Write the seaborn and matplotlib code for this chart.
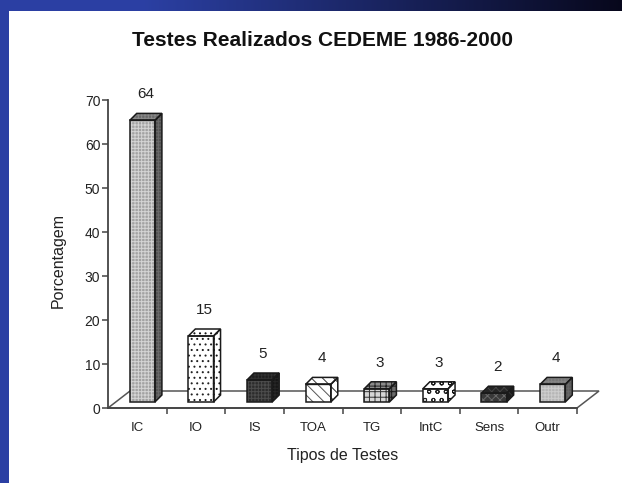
import numpy as np
import pandas as pd
import matplotlib
matplotlib.use("Agg")
import matplotlib.pyplot as plt
import matplotlib.transforms as mtransforms
from matplotlib.colors import to_rgb
from matplotlib.patches import Polygon, Rectangle
import seaborn as sns

categorias = ["IC", "IO", "IS", "TOA", "TG", "IntC", "Sens", "Outr"]
porcentagem = [64, 15, 5, 4, 3, 3, 2, 4]
y_ticks = [0, 10, 20, 30, 40, 50, 60, 70]

# fill / hatch for each bar (old 3D chart look)
cores = ["#a2a2a2", "#ffffff", "#2c2c2c", "#ffffff", "#d6d6d6", "#ffffff", "#383838", "#b6b6b6"]
hachuras = ["+++++", "...", "+++++", "\\\\\\", "+++", "oo", "xxxx", "+++++"]
cor_hachura = ["#d4d4d4", "#222222", "#4c4c4c", "#555555", "#333333", "#222222", "#686868", "#cdcdcd"]

sns.set_theme(style="white")
plt.rcParams["font.family"] = ["Liberation Sans", "DejaVu Sans"]
plt.rcParams["hatch.linewidth"] = 0.7
texto = "#222222"

W, H = 622, 483
fig = plt.figure(figsize=(W / 100, H / 100), dpi=100)

# slide background: blue frame + white panel
bg = fig.add_axes([0, 0, 1, 1])
bg.set_axis_off()
grad = np.clip(np.linspace(-0.3, 1, 256), 0, 1)
c0 = np.array([0.17, 0.25, 0.64])
c1 = np.array([0.03, 0.03, 0.11])
img = c0[None, None, :] * (1 - grad[None, :, None]) + c1[None, None, :] * grad[None, :, None]
bg.imshow(img, extent=[0, 1, 0, 1], aspect="auto", zorder=0)
bg.add_patch(Rectangle((9 / W, 0), 1, 1 - 11 / H, transform=bg.transAxes,
                       facecolor="white", edgecolor="none", zorder=1))
bg.set_xlim(0, 1)
bg.set_ylim(0, 1)

# plot area
ax = fig.add_axes([108 / W, 75 / H, 469 / W, 308 / H])
ax.patch.set_alpha(0)

df = pd.DataFrame({"Tipo": categorias, "Porcentagem": porcentagem})
sns.barplot(data=df, x="Tipo", y="Porcentagem", width=0.43, ax=ax, zorder=3)

ax.set_xlim(-0.5, len(categorias) - 0.5)
ax.set_ylim(0, 70)

# pixel -> data conversion
ux = (len(categorias)) / 469
uy = 70 / 308
desloc = ax.transData + mtransforms.ScaledTranslation(5 / 100, 6 / 100, fig.dpi_scale_trans)
dx, dy = 7 * ux, 7 * uy

# floor of the 3D chart
fdx, fdy = 22 * ux, 17 * uy
x0, x1 = -0.5, len(categorias) - 0.5
ax.add_patch(Polygon([(x0, 0), (x1, 0), (x1 + fdx, fdy), (x0 + fdx, fdy)], closed=True,
                     facecolor="white", edgecolor="#555555", lw=1.1, clip_on=False, zorder=1))


def escurecer(c, f):
    r = np.array(to_rgb(c))
    if r.min() > 0.95:
        return c
    return tuple(r * f)


for i, p in enumerate(ax.patches[:len(categorias)]):
    p.set_transform(desloc)
    p.set_facecolor(cores[i])
    p.set_edgecolor(cor_hachura[i])
    p.set_hatch(hachuras[i])
    p.set_linewidth(0)
    p.set_clip_on(False)
    bx, bw, bh = p.get_x(), p.get_width(), p.get_height()
    ax.add_patch(Rectangle((bx, 0), bw, bh, transform=desloc, fill=False,
                           edgecolor="#1a1a1a", lw=1.1, clip_on=False, zorder=4))
    lado = [(bx + bw, 0), (bx + bw + dx, dy), (bx + bw + dx, bh + dy), (bx + bw, bh)]
    topo = [(bx, bh), (bx + dx, bh + dy), (bx + bw + dx, bh + dy), (bx + bw, bh)]
    for verts, f in ((lado, 0.5), (topo, 0.65)):
        ax.add_patch(Polygon(verts, closed=True, transform=desloc, facecolor=escurecer(cores[i], f),
                             edgecolor=escurecer(cor_hachura[i], f), hatch=hachuras[i], lw=0,
                             clip_on=False, zorder=3))
        ax.add_patch(Polygon(verts, closed=True, transform=desloc, fill=False,
                             edgecolor="#1a1a1a", lw=1.1, clip_on=False, zorder=4))
    ax.annotate(str(porcentagem[i]), xy=(bx + bw / 2, bh), xytext=(6, 18),
                textcoords="offset points", ha="center", va="bottom",
                fontsize=11, color=texto)

# axes styling
sns.despine(ax=ax)
for s in ("left", "bottom"):
    ax.spines[s].set_color("#444444")
    ax.spines[s].set_linewidth(1.3)
ax.set_yticks(y_ticks)
ax.tick_params(axis="y", direction="out", length=4, width=1.1, color="#444444",
               labelsize=10, labelcolor=texto, pad=1.5, left=True)
ax.set_xticks(range(len(categorias)))
ax.set_xticklabels(categorias)
ax.set_xticks(np.arange(0.5, len(categorias)), minor=True)
ax.tick_params(axis="x", which="major", length=0, labelsize=9.5, labelcolor=texto, pad=10)
ax.tick_params(axis="x", which="minor", direction="out", length=4, width=1.1,
               color="#444444", bottom=True)
ax.grid(False)

ax.set_xlabel("Tipos de Testes", fontsize=11.5, color=texto, labelpad=10)
ax.set_ylabel("Porcentagem", fontsize=11.5, color=texto)
ax.yaxis.set_label_coords(-0.09, 0.48)

fig.text(322 / W, 1 - 40 / H, "Testes Realizados CEDEME 1986-2000", ha="center", va="center",
         fontsize=15, fontweight="bold", color="#111111")

fig.savefig("out.png", dpi=100)
